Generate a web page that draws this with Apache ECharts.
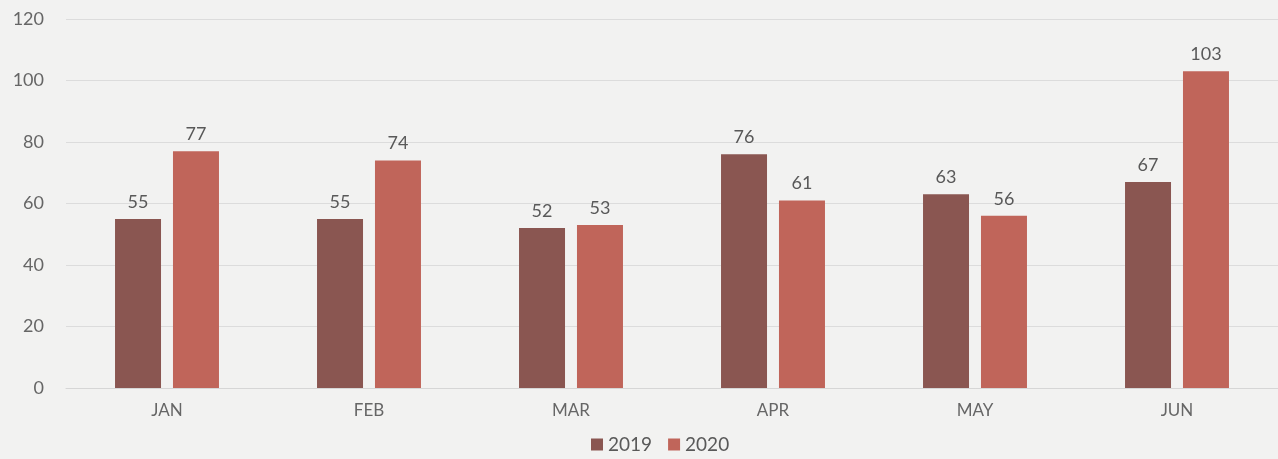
<!DOCTYPE html>
<html>
<head>
<meta charset="utf-8">
<script src="https://cdn.jsdelivr.net/npm/echarts@6/dist/echarts.min.js"></script>
<style>
  html, body { margin: 0; padding: 0; background: #f2f2f1; }
  #main { width: 1278px; height: 459px; }
</style>
</head>
<body>
<div id="main"></div>
<script>
// data
var months = ['JAN', 'FEB', 'MAR', 'APR', 'MAY', 'JUN'];
var sales2019 = [55, 55, 52, 76, 63, 67];
var sales2020 = [77, 74, 53, 61, 56, 103];
var yTicks = [0, 20, 40, 60, 80, 100, 120];

var chart = echarts.init(document.getElementById('main'));

var labelStyle = {
  show: true,
  position: 'top',
  distance: 8,
  color: '#595959',
  fontSize: 18,
  fontFamily: 'Lato'
};

var option = {
  backgroundColor: '#f2f2f1',
  textStyle: { fontFamily: 'Lato' },
  grid: { left: 66, top: 19, width: 1215, height: 369 },
  legend: {
    bottom: 0,
    left: 586,
    itemWidth: 12,
    itemHeight: 12,
    itemGap: 16,
    icon: 'rect',
    textStyle: { color: '#595959', fontSize: 19, fontFamily: 'Lato' },
    data: ['2019', '2020']
  },
  xAxis: {
    type: 'category',
    data: months,
    axisLine: { lineStyle: { color: '#d6d6d6' } },
    axisTick: { show: false },
    axisLabel: { color: '#666', fontSize: 17, margin: 14 }
  },
  yAxis: {
    type: 'value',
    min: yTicks[0],
    max: yTicks[yTicks.length - 1],
    interval: 20,
    axisLine: { show: false },
    axisTick: { show: false },
    axisLabel: { color: '#666', fontSize: 18, margin: 22 },
    splitLine: { lineStyle: { color: '#dcdcdc' } }
  },
  series: [
    {
      name: '2019',
      type: 'bar',
      data: sales2019,
      barWidth: 46,
      barGap: '26%',
      itemStyle: { color: '#8a5651' },
      label: labelStyle
    },
    {
      name: '2020',
      type: 'bar',
      data: sales2020,
      barWidth: 46,
      itemStyle: { color: '#c0655a' },
      label: labelStyle
    }
  ]
};

chart.setOption(option);
</script>
</body>
</html>
